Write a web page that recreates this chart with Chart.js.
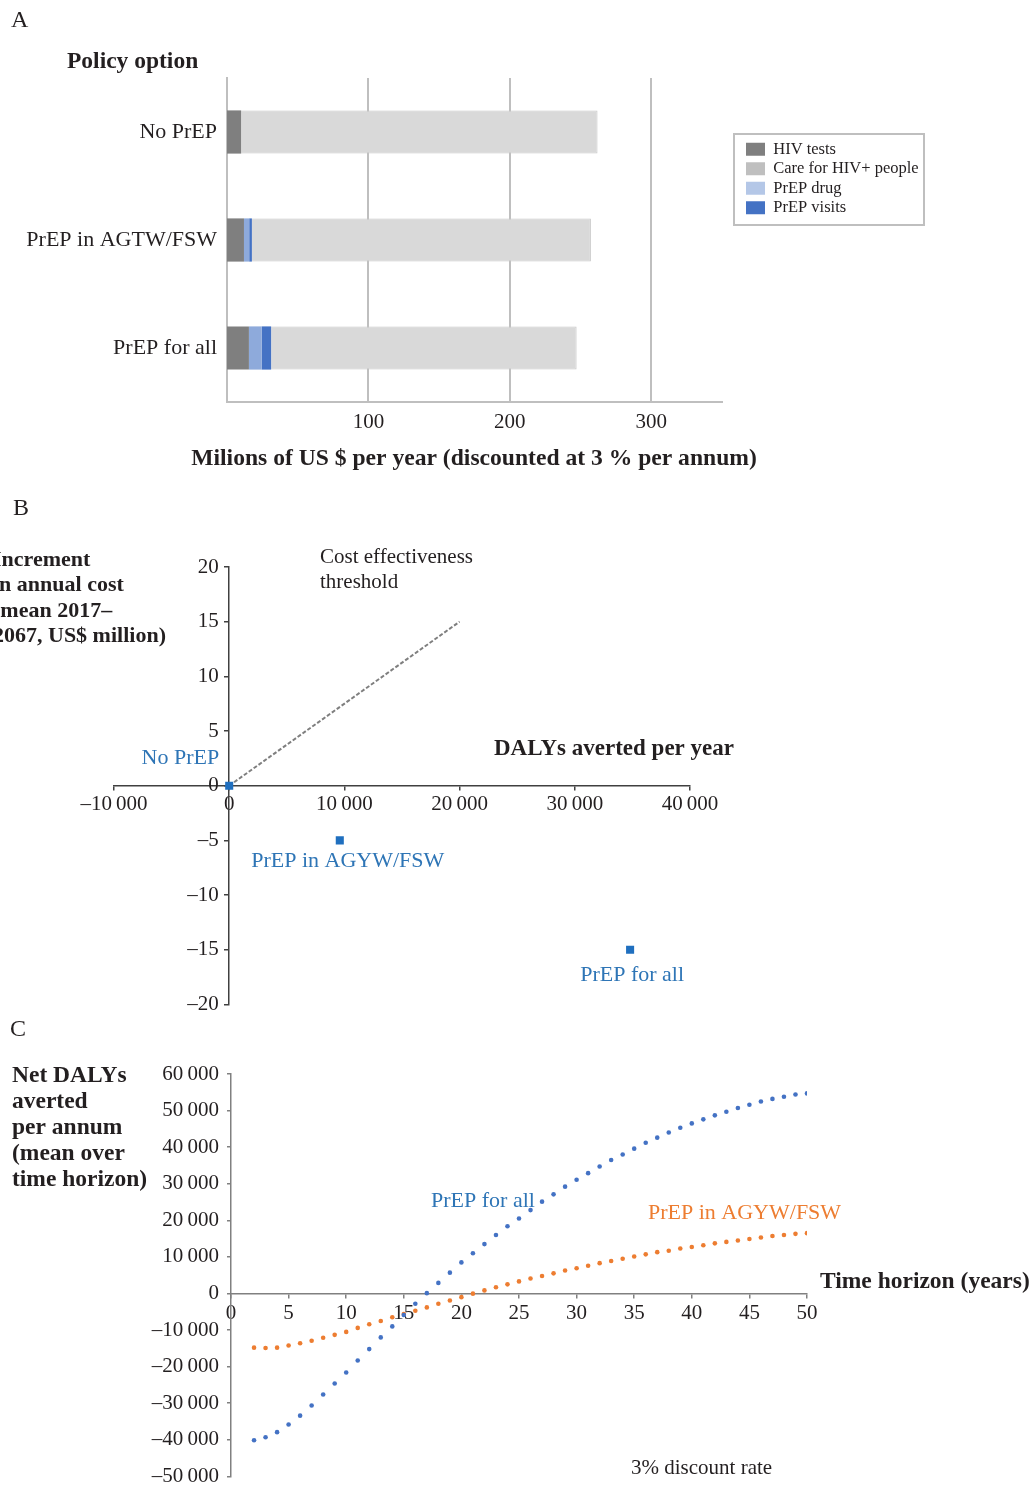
<!DOCTYPE html>
<html>
<head>
<meta charset="utf-8">
<script src="https://cdn.jsdelivr.net/npm/chart.js@4.4.1/dist/chart.umd.min.js"></script>
<style>
  html, body { margin: 0; padding: 0; background: #ffffff; }
  body { width: 1031px; height: 1488px; position: relative; overflow: hidden; }
  .panel { position: absolute; left: 0; width: 1031px; }
</style>
</head>
<body>
<div class="panel" style="top:0px;height:490px"><canvas id="chartA"></canvas></div>
<div class="panel" style="top:490px;height:530px"><canvas id="chartB"></canvas></div>
<div class="panel" style="top:1020px;height:477px"><canvas id="chartC"></canvas></div>
<script>
// ---------------- DATA ----------------
// Panel A: costs (millions of US$ per year)
const policyOptions = ['No PrEP', 'PrEP in AGTW/FSW', 'PrEP for all'];
const hivTests = [10, 12, 15.5];
const prepDrug = [0, 3.7, 9.1];
const prepVisits = [0, 1.9, 6.6];
const careHivPositive = [252, 239.7, 216];
const costTicks = [100, 200, 300];
const legendOrder = ['HIV tests', 'Care for HIV+ people', 'PrEP drug', 'PrEP visits'];

// Panel B: cost-effectiveness plane
const planeLabels = ['No PrEP', 'PrEP in AGYW/FSW', 'PrEP for all'];
const dalysAvertedPerYear = [0, 9600, 34800];
const costIncrement = [0, -5, -15];
const thresholdDalys = [0, 20000];
const thresholdCost = [0, 15];

// Panel C: net DALYs averted per annum by time horizon
const timeHorizon = [2, 3, 4, 5, 6, 7, 8, 9, 10, 11, 12, 13, 14, 15, 16, 17, 18, 19, 20, 21, 22, 23, 24, 25, 26,
  27, 28, 29, 30, 31, 32, 33, 34, 35, 36, 37, 38, 39, 40, 41, 42, 43, 44, 45, 46, 47, 48, 49, 50];
const netPrepForAll = [-40100, -39300, -37900, -35800, -33400, -30600, -27600, -24600, -21600, -18300,
  -15200, -12000, -9000, -5900, -2800, 100, 2900, 5700, 8500, 11000, 13500, 16000, 18400, 20500, 22800,
  25100, 27100, 29200, 31100, 32900, 34700, 36500, 38000, 39600, 41200, 42600, 44000, 45300, 46500,
  47600, 48700, 49700, 50700, 51600, 52500, 53200, 53800, 54400, 54700];
const netPrepAgywFsw = [-14800, -14900, -14800, -14200, -13600, -12900, -12100, -11300, -10500, -9400,
  -8400, -7500, -6500, -5600, -4700, -3800, -2800, -1900, -1000, -50, 850, 1700, 2500, 3300, 4100,
  4800, 5500, 6300, 6900, 7600, 8300, 8900, 9500, 10100, 10700, 11300, 11700, 12300, 12700, 13200,
  13700, 14100, 14500, 14900, 15300, 15700, 16000, 16300, 16500];

// ---------------- STYLE HELPERS ----------------
const SERIF = '"Liberation Serif", "Times New Roman", "DejaVu Serif", serif';
const INK = '#231f20';
const tickFont = { family: SERIF, size: 21 };
function fmtNum(v) {
  const s = String(Math.abs(v)).replace(/\B(?=(\d{3})+(?!\d))/g, '\u2009');
  return (v < 0 ? '\u2013' : '') + s;
}
function makeTextLayer(items) {
  return {
    id: 'textLayer',
    afterDraw(chart) {
      const ctx = chart.ctx;
      ctx.save();
      items.forEach(it => {
        ctx.font = (it.bold ? 'bold ' : '') + (it.size || 22) + 'px ' + SERIF;
        ctx.fillStyle = it.color || INK;
        ctx.textAlign = it.align || 'left';
        ctx.textBaseline = 'middle';
        let x = it.x, y = it.y;
        if (it.anchor) {
          const el = chart.getDatasetMeta(it.anchor[0]).data[it.anchor[1]];
          x += el.x; y += el.y;
        }
        ctx.fillText(it.text, x, y);
      });
      ctx.restore();
    }
  };
}

// ---------------- PANEL A ----------------
const legendSwatch = {
  'HIV tests': '#7f7f7f',
  'Care for HIV+ people': '#bfbfbf',
  'PrEP drug': '#b4c7e7',
  'PrEP visits': '#4472c4'
};
const legendPlacer = {
  id: 'legendPlacer',
  afterLayout(chart) {
    const l = chart.legend;
    if (!l) return;
    const w = l.width, h = l.height;
    l.left = 743; l.top = 138; l.right = 743 + w; l.bottom = 138 + h;
  },
  afterDraw(chart) {
    const ctx = chart.ctx;
    ctx.save();
    ctx.strokeStyle = '#bfbfbf';
    ctx.lineWidth = 2;
    ctx.strokeRect(734, 134, 190, 91);
    ctx.restore();
  }
};

new Chart(document.getElementById('chartA'), {
  type: 'bar',
  data: {
    labels: policyOptions,
    datasets: [
      { label: 'HIV tests', data: hivTests, backgroundColor: '#7f7f7f', borderWidth: 0 },
      { label: 'PrEP drug', data: prepDrug, backgroundColor: '#8eaadb', borderWidth: 0 },
      { label: 'PrEP visits', data: prepVisits, backgroundColor: '#4472c4', borderWidth: 0 },
      { label: 'Care for HIV+ people', data: careHivPositive, backgroundColor: '#d9d9d9', borderColor: '#c6c6c6', borderWidth: 1 }
    ]
  },
  options: {
    indexAxis: 'y',
    responsive: true,
    maintainAspectRatio: false,
    animation: false,
    layout: { autoPadding: false, padding: { left: 0, right: 1031 - 722, top: 78, bottom: 0 } },
    datasets: { bar: { categoryPercentage: 0.8, barPercentage: 0.5 } },
    scales: {
      x: {
        stacked: true, min: 0, max: 350,
        afterBuildTicks: s => { s.ticks = costTicks.map(v => ({ value: v })); },
        afterFit: s => { s.height = 88; },
        grid: { color: '#bfbfbf', lineWidth: 2, drawTicks: false },
        border: { color: '#bfbfbf', width: 2 },
        ticks: { padding: 8, font: tickFont, color: INK }
      },
      y: {
        stacked: true,
        afterFit: s => { s.width = 227; },
        grid: { display: false, drawTicks: false },
        border: { color: '#bfbfbf', width: 2 },
        ticks: { padding: 10, font: { family: SERIF, size: 22 }, color: INK }
      }
    },
    plugins: {
      tooltip: { enabled: false },
      legend: {
        position: 'chartArea', align: 'start',
        labels: {
          font: { family: SERIF, size: 16.5 }, color: INK,
          boxWidth: 19, boxHeight: 13, padding: 3,
          sort: (a, b) => legendOrder.indexOf(a.text) - legendOrder.indexOf(b.text),
          generateLabels: chart => Chart.defaults.plugins.legend.labels.generateLabels(chart).map(it => Object.assign(it, {
            fillStyle: legendSwatch[it.text], strokeStyle: legendSwatch[it.text], lineWidth: 0
          }))
        }
      }
    }
  },
  plugins: [legendPlacer, makeTextLayer([
    { text: 'A', x: 11, y: 21, size: 24 },
    { text: 'Policy option', x: 67, y: 62, bold: true, size: 23.5 },
    { text: 'Milions of US $ per year (discounted at 3 % per annum)', x: 474, y: 459, bold: true, size: 23.6, align: 'center' }
  ])]
});

// ---------------- PANEL B ----------------
const planeLabelOffsets = [[-10, -27, 'right'], [8, 21, 'center'], [2, 25, 'center']];
new Chart(document.getElementById('chartB'), {
  type: 'scatter',
  data: {
    datasets: [
      {
        label: 'Policy options',
        data: dalysAvertedPerYear.map((x, i) => ({ x: x, y: costIncrement[i] })),
        pointStyle: 'rect', pointRadius: 5.7, backgroundColor: '#1f6fbf', borderWidth: 0, order: 0
      },
      {
        type: 'line', label: 'Cost effectiveness threshold',
        data: thresholdDalys.map((x, i) => ({ x: x, y: thresholdCost[i] })),
        borderColor: '#7f7f7f', borderWidth: 2, borderDash: [4, 2], pointRadius: 0, fill: false, order: 1
      }
    ]
  },
  options: {
    responsive: true,
    maintainAspectRatio: false,
    animation: false,
    layout: { autoPadding: false, padding: { left: 114, right: 1031 - 690, top: 77, bottom: 13 } },
    scales: {
      x: {
        type: 'linear', min: -10000, max: 40000, position: { y: 0 },
        afterFit: s => { s.height = 0; },
        grid: { drawOnChartArea: false, color: '#404040', lineWidth: 1.5, tickLength: 4 },
        border: { color: '#404040', width: 1.5 },
        ticks: { stepSize: 10000, padding: 2, font: tickFont, color: INK, maxRotation: 0, callback: v => fmtNum(v) }
      },
      y: {
        type: 'linear', min: -20, max: 20, position: { x: 0 },
        afterFit: s => { s.width = 0; },
        grid: { drawOnChartArea: false, color: '#404040', lineWidth: 1.5, tickLength: 4 },
        border: { color: '#404040', width: 1.5 },
        // labels of an axis placed at x = 0 are drawn flush with the axis; an en space keeps them clear of it
        ticks: { stepSize: 5, font: tickFont, color: INK, callback: v => fmtNum(v) + '\u2002' }
      }
    },
    plugins: { legend: { display: false }, tooltip: { enabled: false } }
  },
  plugins: [makeTextLayer([
    { text: 'B', x: 13, y: 19, size: 24 },
    { text: 'Increment', x: -7, y: 70, bold: true, size: 22 },
    { text: 'in annual cost', x: -7, y: 95, bold: true, size: 22 },
    { text: '(mean 2017\u2013', x: -7, y: 121, bold: true, size: 22 },
    { text: '2067, US$ million)', x: -7, y: 146, bold: true, size: 22 },
    { text: 'Cost effectiveness', x: 320, y: 67, size: 21 },
    { text: 'threshold', x: 320, y: 92, size: 21 },
    { text: 'DALYs averted per year', x: 494, y: 259, bold: true, size: 23 }
  ].concat(planeLabels.map((t, i) => ({
    text: t, anchor: [0, i], x: planeLabelOffsets[i][0], y: planeLabelOffsets[i][1],
    align: planeLabelOffsets[i][2], color: '#2e75b6', size: 22
  }))))]
});

// ---------------- PANEL C ----------------
new Chart(document.getElementById('chartC'), {
  type: 'scatter',
  data: {
    datasets: [
      {
        label: 'PrEP for all',
        data: timeHorizon.map((x, i) => ({ x: x, y: netPrepForAll[i] })),
        pointRadius: 2.3, backgroundColor: '#4472c4', borderWidth: 0
      },
      {
        label: 'PrEP in AGYW/FSW',
        data: timeHorizon.map((x, i) => ({ x: x, y: netPrepAgywFsw[i] })),
        pointRadius: 2.3, backgroundColor: '#ed7d31', borderWidth: 0
      }
    ]
  },
  options: {
    responsive: true,
    maintainAspectRatio: false,
    animation: false,
    layout: { autoPadding: false, padding: { left: 0, right: 1031 - 807, top: 54, bottom: 2 } },
    scales: {
      x: {
        type: 'linear', min: 0, max: 50, position: { y: 0 },
        afterFit: s => { s.height = 0; },
        grid: { drawOnChartArea: false, color: '#808080', lineWidth: 1.5, tickLength: 4 },
        border: { color: '#808080', width: 1.5 },
        ticks: { stepSize: 5, padding: 3, font: tickFont, color: INK, maxRotation: 0 }
      },
      y: {
        type: 'linear', min: -50000, max: 60000, position: 'left',
        afterFit: s => { s.width = 231; },
        grid: { drawOnChartArea: false, color: '#808080', lineWidth: 1.5, tickLength: 4 },
        border: { color: '#808080', width: 1.5 },
        ticks: { stepSize: 10000, padding: 8, font: tickFont, color: INK, callback: v => fmtNum(v) }
      }
    },
    plugins: { legend: { display: false }, tooltip: { enabled: false } }
  },
  plugins: [makeTextLayer([
    { text: 'C', x: 10, y: 10, size: 24 },
    { text: 'Net DALYs', x: 12, y: 56, bold: true, size: 23.5 },
    { text: 'averted', x: 12, y: 82, bold: true, size: 23.5 },
    { text: 'per annum', x: 12, y: 108, bold: true, size: 23.5 },
    { text: '(mean over', x: 12, y: 134, bold: true, size: 23.5 },
    { text: 'time horizon)', x: 12, y: 160, bold: true, size: 23.5 },
    { text: 'Time horizon (years)', x: 820, y: 262, bold: true, size: 23.5 },
    { text: '3% discount rate', x: 631, y: 448, size: 21 },
    { text: 'PrEP for all', x: 431, y: 181, size: 22, color: '#2e75b6' },
    { text: 'PrEP in AGYW/FSW', x: 648, y: 193, size: 22, color: '#ed7d31' }
  ])]
});
</script>
</body>
</html>
